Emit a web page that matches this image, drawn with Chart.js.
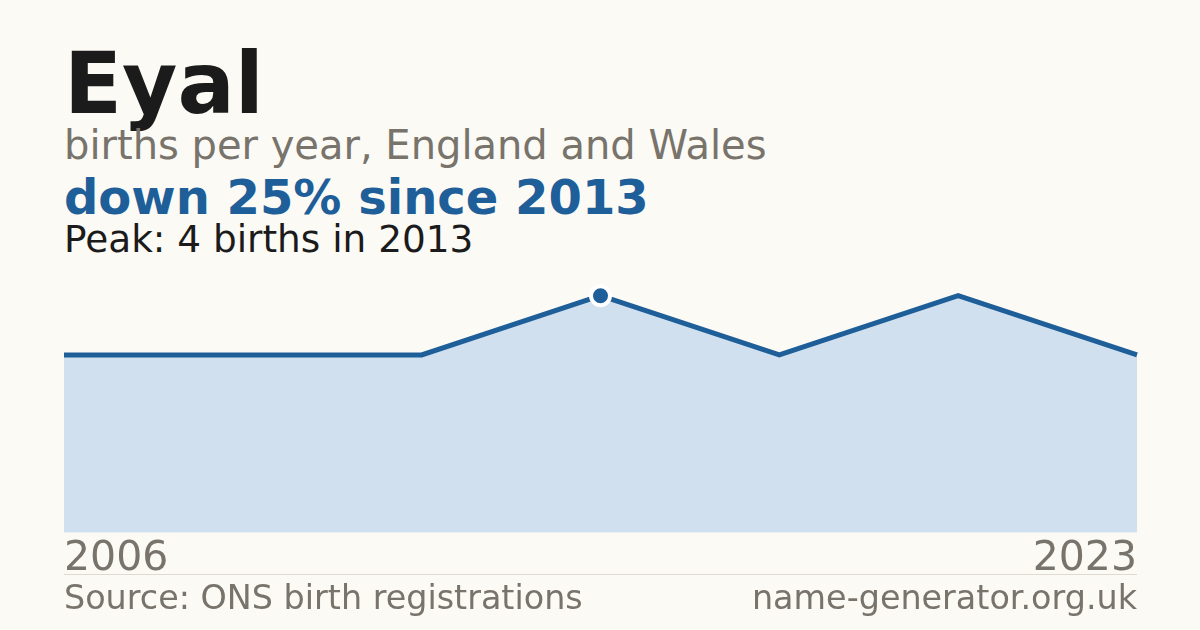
<!DOCTYPE html>
<html lang="en">
<head>
<meta charset="UTF-8">
<title>Eyal - births per year</title>
<script src="https://cdn.jsdelivr.net/npm/chart.js"></script>
<style>
    html, body {
        margin: 0;
        padding: 0;
        width: 1200px;
        height: 630px;
        overflow: hidden;
        background: #fbfaf5;
        font-family: 'DejaVu Sans', sans-serif;
    }
    .txt {
        position: absolute;
        left: 64px;
        line-height: 1;
        white-space: nowrap;
    }
    #name { top: 41px; font-size: 85px; font-weight: bold; color: #1b1b1b; }
    #sub { top: 125px; font-size: 40px; color: #78736b; }
    #change { top: 173px; font-size: 48px; font-weight: bold; color: #1f5f99; }
    #peak { top: 221px; font-size: 37.4px; color: #1b1b1b; }
    #rule {
        position: absolute;
        left: 64px;
        top: 574px;
        width: 1073px;
        height: 1px;
        background: #dedad2;
    }
    .foot { top: 581px; font-size: 33.4px; color: #78736b; }
    #site { left: auto; right: 63px; }
    /* canvas is 2px wider each side: the tick padding also pads the chart area sideways */
    #chartBox {
        position: absolute;
        left: 62px;
        top: 272px;
        width: 1077px;
        height: 314px;
    }
</style>
</head>
<body>
<div class="txt" id="name">Eyal</div>
<div class="txt" id="sub">births per year, England and Wales</div>
<div class="txt" id="change">down 25% since 2013</div>
<div class="txt" id="peak">Peak: 4 births in 2013</div>
<div id="chartBox"><canvas id="birthsChart"></canvas></div>
<div id="rule"></div>
<div class="txt foot" id="source">Source: ONS birth registrations</div>
<div class="txt foot" id="site">name-generator.org.uk</div>

<script>
const years = ['2006', '2008', '2011', '2013', '2016', '2019', '2023'];
const births = [3, 3, 3, 4, 3, 4, 3];
const peakYear = '2013';

const peakIdx = years.indexOf(peakYear);
const lineBlue = '#1f5f99';

const ctx = document.getElementById('birthsChart').getContext('2d');
new Chart(ctx, {
    type: 'line',
    data: {
        labels: years,
        datasets: [{
            data: births,
            borderColor: lineBlue,
            borderWidth: 5,
            backgroundColor: '#d0e0ef',
            fill: 'origin',
            tension: 0,
            pointRadius: births.map((v, i) => i === peakIdx ? 9.5 : 0),
            pointHoverRadius: 0,
            pointBackgroundColor: lineBlue,
            pointBorderColor: '#ffffff',
            pointBorderWidth: 4
        }]
    },
    options: {
        responsive: true,
        maintainAspectRatio: false,
        animation: false,
        layout: { padding: 0, autoPadding: false },
        plugins: {
            legend: { display: false },
            tooltip: { enabled: false }
        },
        scales: {
            x: {
                offset: false,
                grid: { display: false, drawTicks: false },
                border: { display: false },
                ticks: {
                    autoSkip: false,
                    maxRotation: 0,
                    align: 'inner',
                    padding: 2,
                    color: '#78736b',
                    font: { family: 'DejaVu Sans', size: 41 },
                    callback: function (val, i) {
                        return (i === 0 || i === years.length - 1) ? years[i] : '';
                    }
                }
            },
            y: {
                display: false,
                min: 0,
                max: 4.4
            }
        }
    }
});
</script>
</body>
</html>
